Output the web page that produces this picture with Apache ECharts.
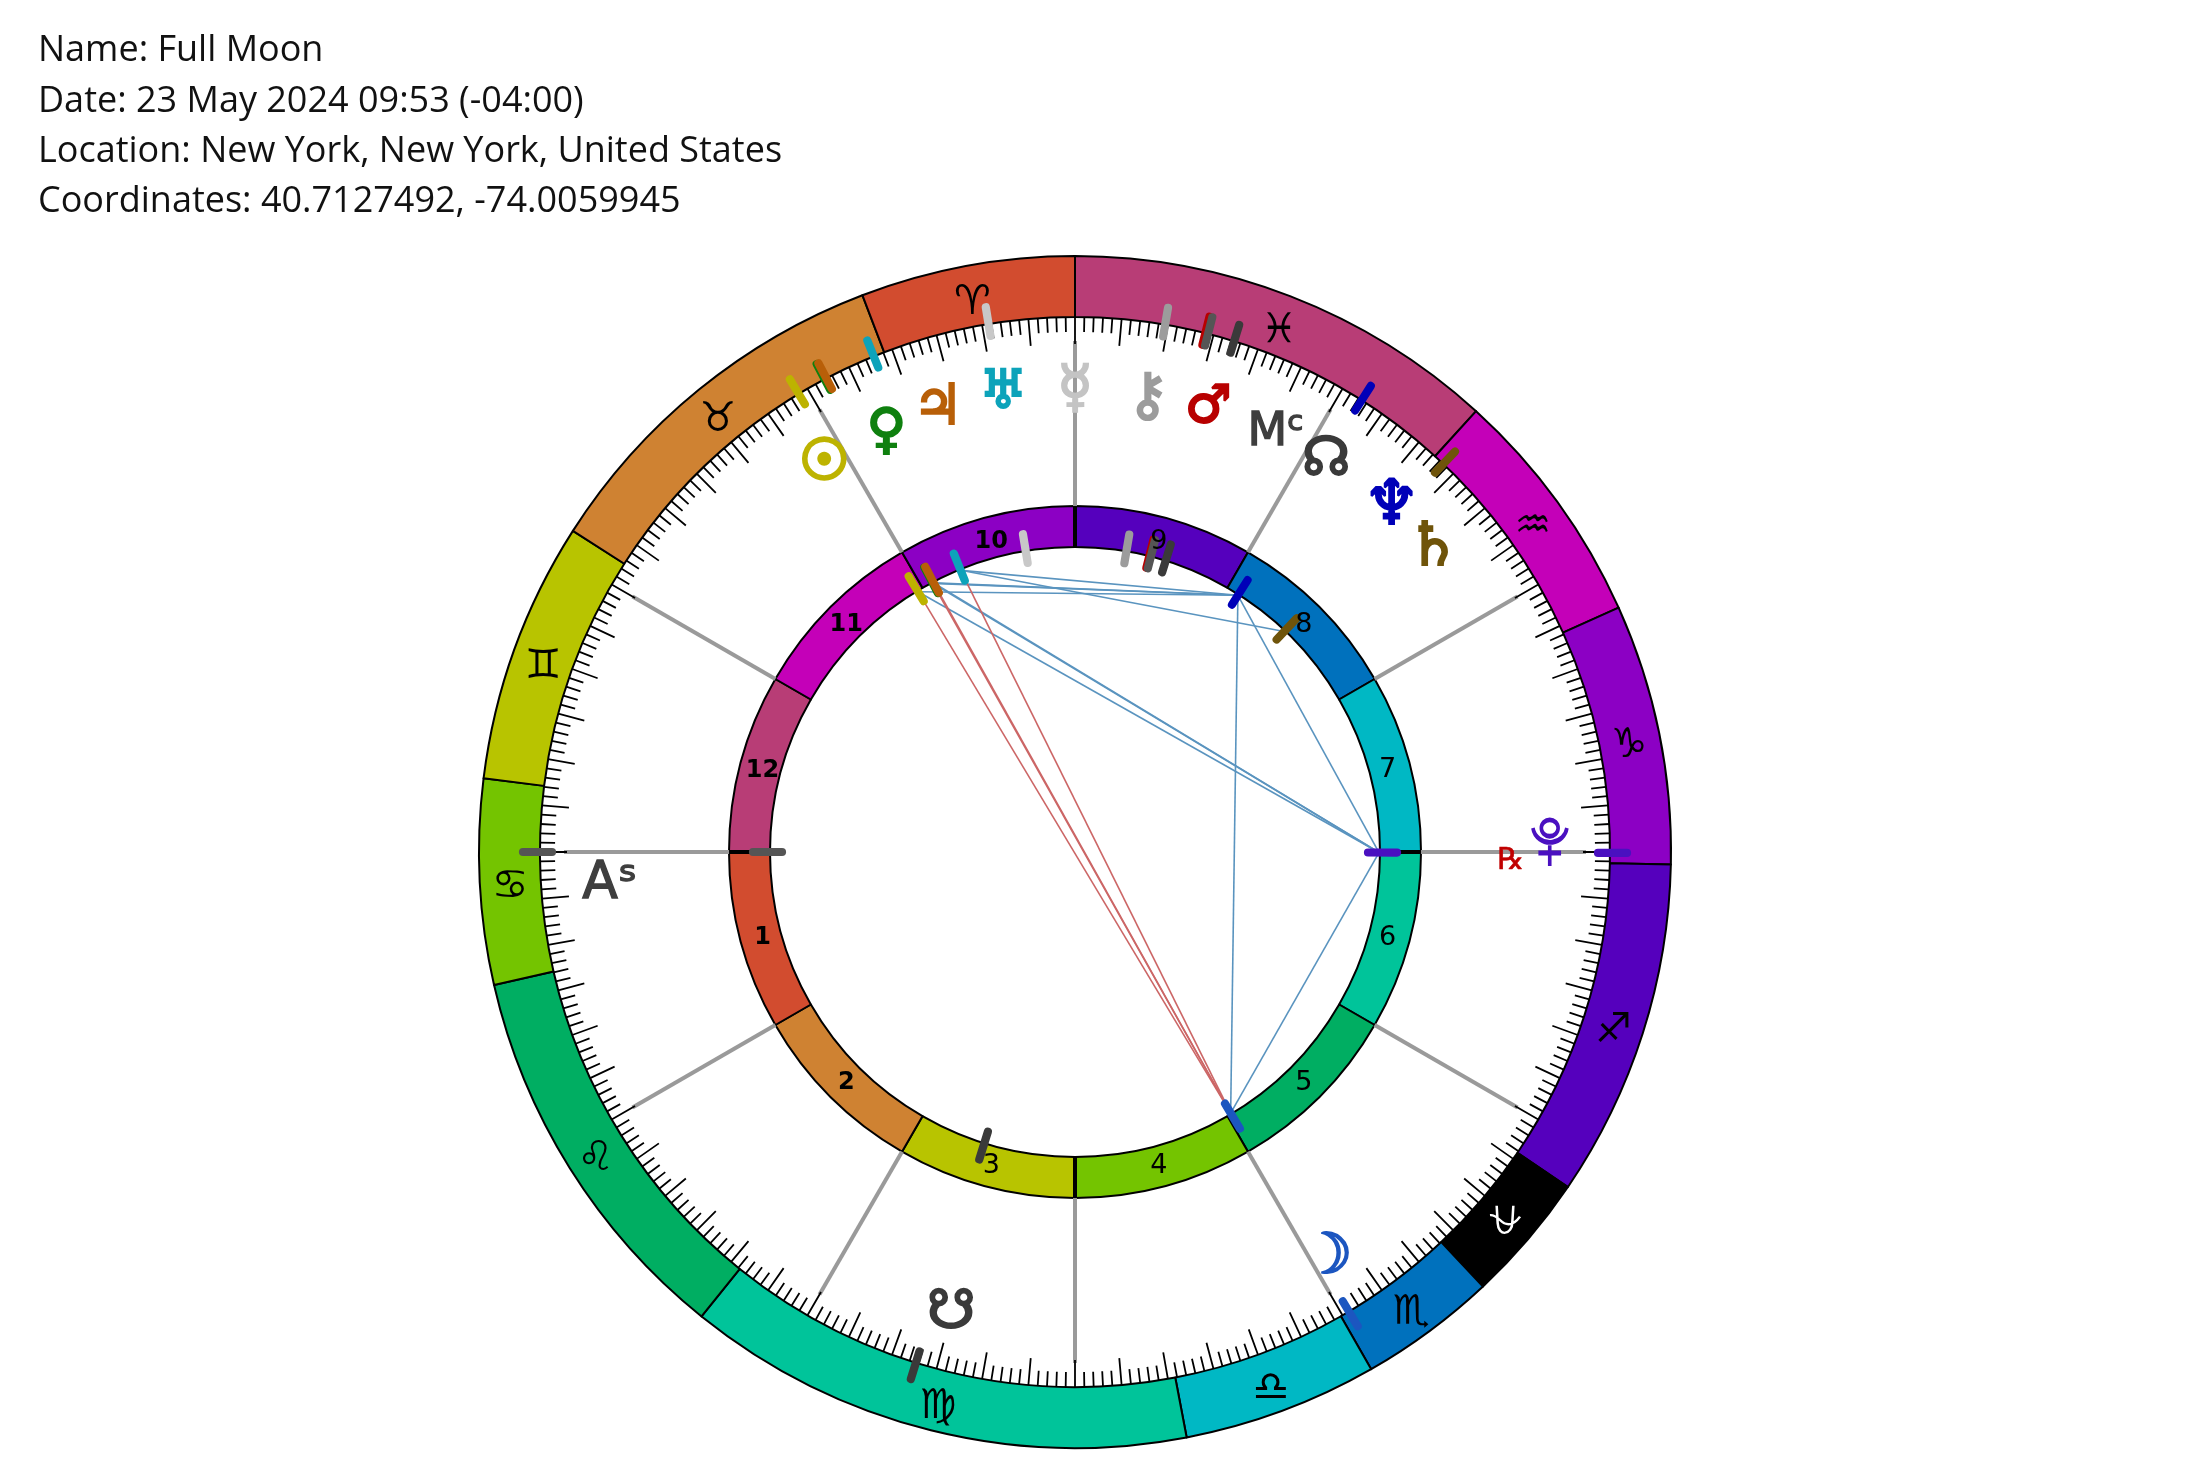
<!DOCTYPE html>
<html><head><meta charset="utf-8">
<style>html,body{margin:0;padding:0;background:#fff}#c{width:2200px;height:1476px}</style>
<script src="https://cdn.jsdelivr.net/npm/echarts@6/dist/echarts.min.js"></script>
</head><body><div id="c"></div>
<script>
// Chart header
const headerLines = ['Name: Full Moon','Date: 23 May 2024 09:53 (-04:00)','Location: New York, New York, United States','Coordinates: 40.7127492, -74.0059945'];
// Constellation spans, degrees, clockwise from the top of the wheel
const signNames = ['Pisces','Aquarius','Capricornus','Sagittarius','Ophiuchus','Scorpius','Libra','Virgo','Leo','Cancer','Gemini','Taurus','Aries'];
const signGlyphs = ['♓','♒','♑','♐','','♏','♎','♍','♌','♋','♊','♉','♈'];
const signSpans = [42.3,23.5,25.4,33,12.6,13.4,19,49.6,38.3,20,25.5,36.5,20.9];
const signColors = ['#b83d76','#c400b8','#8c00c4','#5500bd','#000000','#0071bd','#00b8c4','#00c49a','#00ae62','#74c400','#b8c400','#cf8232','#d24c2f'];
// Houses, clockwise from the top
const houseNames = ['9','8','7','6','5','4','3','2','1','12','11','10'];
const houseSpans = [30,30,30,30,30,30,30,30,30,30,30,30];
const houseColors = ['#5500bd','#0071bd','#00b8c4','#00c49a','#00ae62','#74c400','#b8c400','#cf8232','#d24c2f','#b83d76','#c400b8','#8c00c4'];
const boldHouses = ['10','11','12','1','2'];
// Bodies: degrees clockwise from the top of the wheel
const bodyNames = ['Venus','Jupiter','Sun','Uranus','Mercury','Chiron','Mars','Mc','NNode','Neptune','Saturn','Pluto','Moon','SNode','Asc'];
const bodyDegrees = [332.1,332.3,328.9,337.9,350.7,9.7,14.1,14.4,17.3,32.4,43.5,90.1,149.2,197.3,270];
const bodyColors = ['#0f800f','#b85f08','#bdb300','#0da3ba','#c8c8c8','#9c9c9c','#b80000','#555555','#3a3a3a','#0000b8','#6f540a','#4a10c0','#1c56c0','#3a3a3a','#555555'];
const glyphs = ['♀','♃','☉','♅','☿','⚷','♂','Mᶜ','☊','♆','♄','','☽','☋','Aˢ'];
const glyphDegrees = [336.1,343,327.5,351.2,0,9,16.5,25.3,32.3,42.1,49.2,88.9,147.8,195.2,266.8];
const glyphRadii = [465,469,467,470,467,465,469,470,470,472,473,475,473,472,466];
const glyphSizes = [54,56,56,54,58,58,52,46,54,62,60,0,56,54,52];
// Aspects
const trineSextile = [['Neptune','Uranus'],['Neptune','Jupiter'],['Neptune','Venus'],['Neptune','Sun'],['Uranus','Saturn'],['Pluto','Sun'],['Pluto','Venus'],['Pluto','Jupiter'],['Pluto','Neptune'],['Pluto','Moon'],['Neptune','Moon']];
const oppositions = [['Moon','Sun'],['Moon','Venus'],['Moon','Jupiter'],['Moon','Uranus']];
const houseCusps = [0,30,60,90,120,150,180,210,240,270,300,330];
const angleCusps = [0,90,180,270];

const CX=1075, CY=852;
const GLYPH_FONT='"DejaVu Sans"';
const deg = n => bodyDegrees[bodyNames.indexOf(n)];
const PLUTO_PATH='path://M1005 152 A47 47 0 0 0 1098 152 M1051 200 L1051 258 M1020 222 L1082 222 M1028 152 A23 23 0 1 0 1074 152 A23 23 0 1 0 1028 152';
const OPH_PATH='path://M55 40 L58 92 C60 132 102 128 102 88 L105 40 M35 68 C55 66 62 84 78 92 C95 100 110 92 125 72';

function midOf(spans,i){
  return spans.slice(0,i).reduce((a,b)=>a+b,0)+spans[i]/2;
}
function lineSeries(name, data, color, width, z, cap){
  return {
    name, type:'custom', coordinateSystem:'polar', silent:true, z, animation:false,
    encode:{radius:0, angle:1},
    data,
    renderItem(params, api){
      const a = api.coord([api.value(0), api.value(1)]);
      const b = api.coord([api.value(2), api.value(3)]);
      const c = typeof color==='function' ? color(params.dataIndex) : color;
      return {type:'line', shape:{x1:a[0],y1:a[1],x2:b[0],y2:b[1]},
        style:{stroke:c, lineWidth:width, lineCap:cap||'butt', fill:null}};
    }
  };
}
const aspect = p => [304,deg(p[0]),304,deg(p[1])];
const markers = [];
bodyNames.forEach(n=>{ markers.push([523,deg(n),552,deg(n)]); });
bodyNames.forEach(n=>{ markers.push([293,deg(n),322,deg(n)]); });
const markerColor = i => bodyColors[i % bodyNames.length];

const glyphData = [];
glyphs.forEach((g,i)=>{
  if(!g) return;
  const isText = g==='Mᶜ'||g==='Aˢ';
  const c = isText?'#3e3e3e':(g==='☿'?'#c4c4c4':bodyColors[i]);
  glyphData.push({value:[glyphRadii[i], glyphDegrees[i]],
    label:{formatter:g, color:c, fontSize:glyphSizes[i], textBorderColor:c, textBorderWidth:isText?1.4:(g==='☉'?3.6:2.2)}});
});
const rxData = [{value:[436,90.4], label:{formatter:'℞', color:'#c00000', fontSize:30, textBorderColor:'#c00000', textBorderWidth:0.6}}];
const signLabels = signGlyphs.map((g,i)=>({value:[565.5,midOf(signSpans,i)],label:{formatter:g}})).filter(d=>d.label.formatter);
const houseLabels = houseNames.map((n,i)=>({value:[323.5,midOf(houseSpans,i)],
  label:Object.assign({formatter:n}, boldHouses.includes(n)?{fontWeight:'bold',fontSize:24}:{})}));

function labelSeries(name, data, label){
  return {name,type:'scatter',coordinateSystem:'polar',silent:true,z:8,symbolSize:1,clip:false,
    itemStyle:{color:'transparent',opacity:1},
    label:Object.assign({show:true,position:'inside',fontFamily:GLYPH_FONT,opacity:1},label),
    data};
}

const chart = echarts.init(document.getElementById('c'), null, {renderer:'canvas', width:2200, height:1476});
chart.setOption({
  animation:false,
  backgroundColor:'#ffffff',
  title:{text:headerLines.join('\n'), left:33, top:21,
    textStyle:{fontFamily:'"Open Sans"', fontWeight:'normal', fontSize:36, lineHeight:50.2, color:'#111111'}},
  polar:{center:[CX,CY], radius:535},
  radiusAxis:{min:0,max:535,show:false},
  angleAxis:{type:'value',min:0,max:360,interval:5,startAngle:90,clockwise:true,z:5,
    axisLine:{show:false},axisLabel:{show:false},splitLine:{show:false},
    axisTick:{show:true,inside:true,length:27,lineStyle:{color:'#000',width:1.8}},
    minorTick:{show:true,splitNumber:5,length:15,lineStyle:{color:'#000',width:1.8}},
    minorSplitLine:{show:false}},
  series:[
    {name:'Constellations',type:'pie',center:[CX,CY],radius:[535,596],startAngle:90,clockwise:true,silent:true,z:1,
      minAngle:0,avoidLabelOverlap:false,
      itemStyle:{borderColor:'#000',borderWidth:2},
      label:{show:false},labelLine:{show:false},
      data:signNames.map((n,i)=>({name:n,value:signSpans[i],itemStyle:{color:signColors[i]}}))},
    {name:'Houses',type:'pie',center:[CX,CY],radius:[305,346],startAngle:90,clockwise:true,silent:true,z:1,
      avoidLabelOverlap:false,
      itemStyle:{borderColor:'#000',borderWidth:2},
      label:{show:false},labelLine:{show:false},
      data:houseNames.map((n,i)=>({name:n,value:houseSpans[i],itemStyle:{color:houseColors[i]}}))},
    lineSeries('Cusps',houseCusps.map(d=>[346,d,511,d]),'#9a9a9a',4,3),
    lineSeries('Angles',angleCusps.map(d=>[305,d,346,d]),'#000',4,4),
    lineSeries('Trines and sextiles',trineSextile.map(aspect),'#5a94bf',1.6,6),
    lineSeries('Oppositions',oppositions.map(aspect),'#cc6666',1.6,6),
    lineSeries('Body markers',markers,markerColor,8.2,7,'round'),
    labelSeries('Sign glyphs',signLabels,{fontSize:41,color:'#000',offset:[0,7]}),
    labelSeries('House numbers',houseLabels,{fontSize:27,color:'#000',offset:[0,2]}),
    labelSeries('Body glyphs',glyphData.concat(rxData),{offset:[0,6]}),
    {name:'Drawn glyphs',type:'scatter',coordinateSystem:'polar',silent:true,z:8,clip:false,
      data:[
        {value:[glyphRadii[11],glyphDegrees[11]],symbol:PLUTO_PATH,symbolSize:[34,46],
          itemStyle:{color:'none',borderColor:bodyColors[11],borderWidth:4.2,opacity:1}},
        {value:[565.5,midOf(signSpans,4)],symbol:OPH_PATH,symbolSize:[30,27],
          itemStyle:{color:'none',borderColor:'#ffffff',borderWidth:2.4,opacity:1}}
      ]}
  ]
});
</script></body></html>
